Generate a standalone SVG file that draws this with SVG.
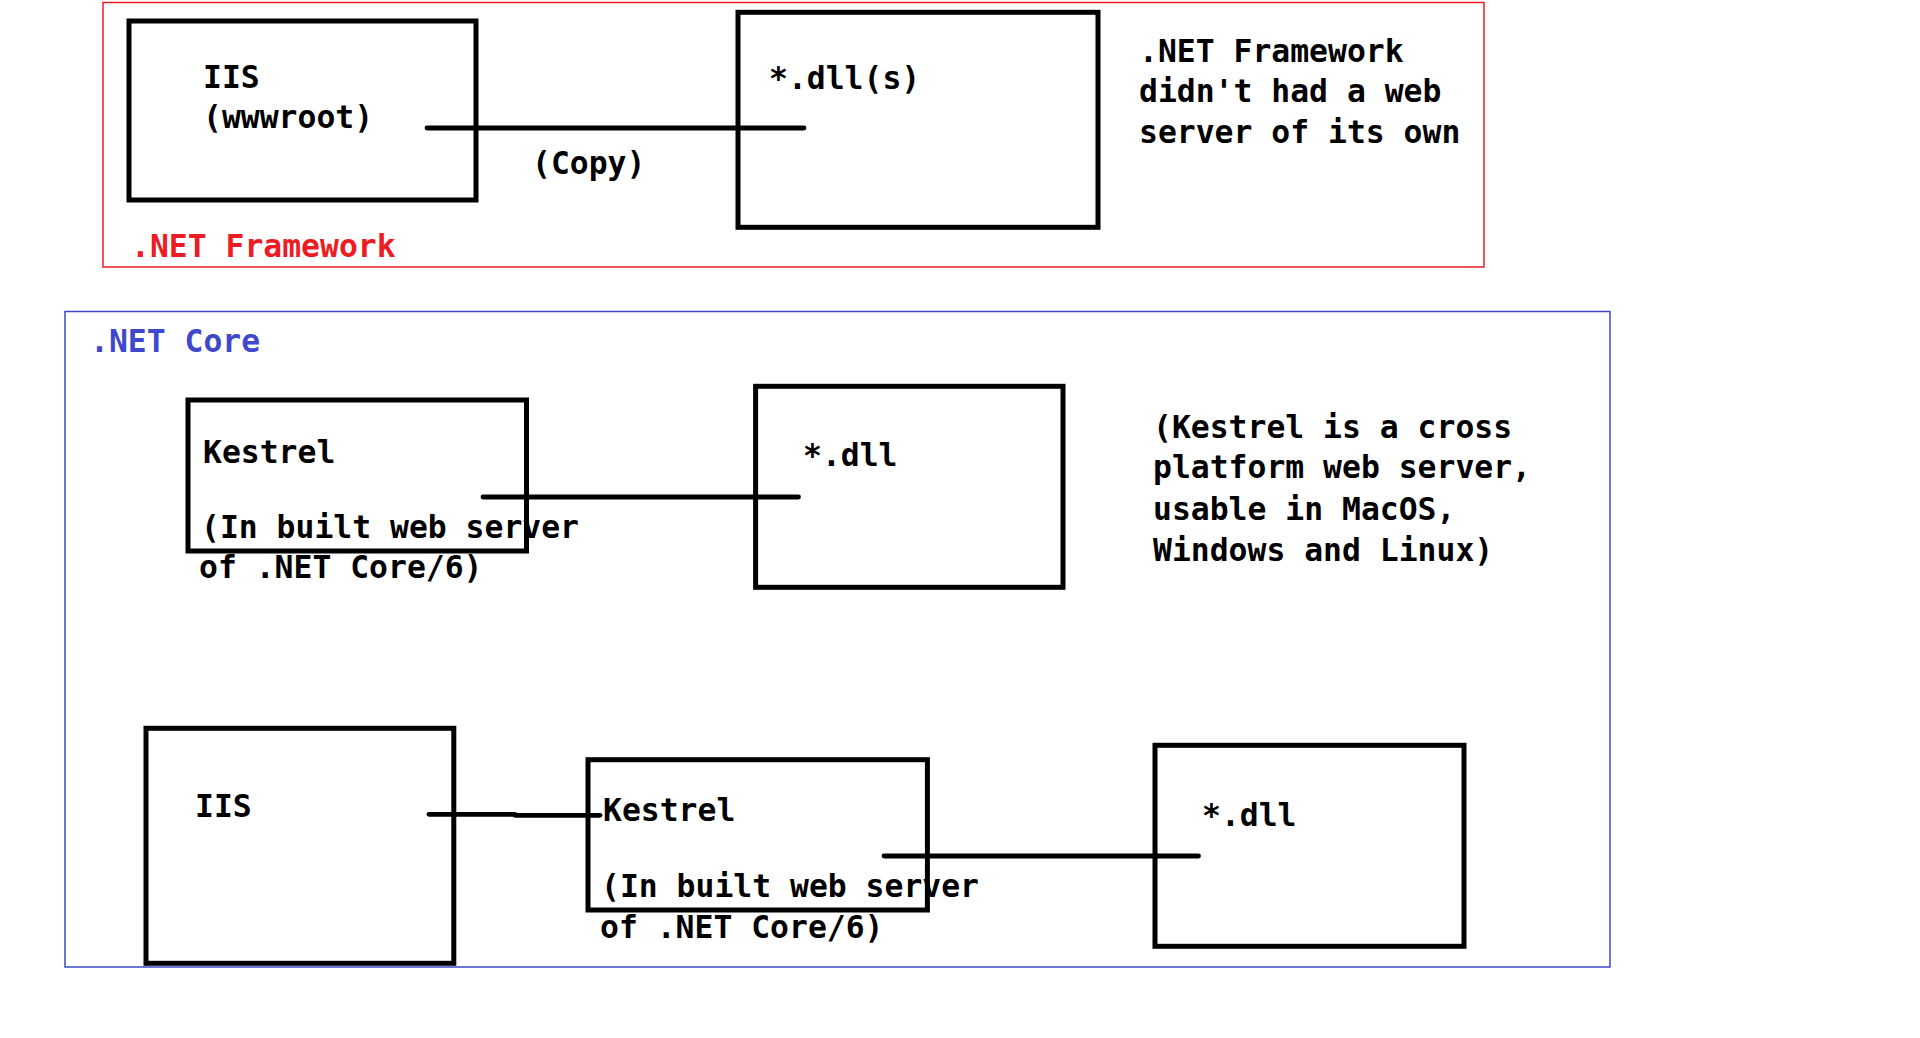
<svg xmlns="http://www.w3.org/2000/svg" width="1920" height="1038" viewBox="0 0 1920 1038">
<style>
.box{fill:none;stroke:#000;stroke-width:5}
.conn{stroke:#000;stroke-width:4.8;stroke-linecap:round;fill:none}
.t{font-family:"DejaVu Sans Mono","Liberation Mono",monospace;font-weight:bold;font-size:31.4px;fill:#000}
.red{fill:#ed1c24}
.blue{fill:#3f48cc}
</style>
<rect width="1920" height="1038" fill="#fff"/>
<g id="framework-group">
<rect x="103" y="2.5" width="1381" height="264.5" fill="none" stroke="#ed1c24" stroke-width="1.5"/>
<text class="t red" x="131" y="257">.NET Framework</text>
</g>
<g id="core-group">
<rect x="65" y="311.5" width="1545" height="655.5" fill="none" stroke="#3f48cc" stroke-width="1.5"/>
<text class="t blue" x="90" y="352">.NET Core</text>
</g>
<g id="connectors">
<line class="conn" x1="427" y1="128" x2="804" y2="128"/>
<line class="conn" x1="483" y1="497" x2="798.5" y2="497"/>
<line class="conn" x1="429" y1="814.3" x2="515" y2="814.3"/>
<line class="conn" x1="515" y1="815.3" x2="600" y2="815.3"/>
<line class="conn" x1="884" y1="856" x2="1198.5" y2="856"/>
</g>
<g id="iis-top">
<rect class="box" x="129" y="21" width="347" height="179"/>
<text class="t" x="203" y="88">IIS</text>
<text class="t" x="203" y="128">(wwwroot)</text>
</g>
<g id="copy-label">
<text class="t" x="532" y="174">(Copy)</text>
</g>
<g id="dlls-top">
<rect class="box" x="738" y="12.3" width="360" height="215"/>
<text class="t" x="769" y="89">*.dll(s)</text>
</g>
<g id="framework-note">
<text class="t" x="1139" y="62">.NET Framework</text>
<text class="t" x="1139" y="102">didn't had a web</text>
<text class="t" x="1139" y="143">server of its own</text>
</g>
<g id="kestrel-mid">
<rect class="box" x="188" y="400" width="338.5" height="151"/>
<text class="t" x="203" y="463">Kestrel</text>
<text class="t" x="201" y="538">(In built web server</text>
<text class="t" x="199" y="578">of .NET Core/6)</text>
</g>
<g id="dll-mid">
<rect class="box" x="755.6" y="386.3" width="307.4" height="201"/>
<text class="t" x="803" y="466">*.dll</text>
</g>
<g id="kestrel-note">
<text class="t" x="1153" y="438">(Kestrel is a cross</text>
<text class="t" x="1153" y="478">platform web server,</text>
<text class="t" x="1153" y="520">usable in MacOS,</text>
<text class="t" x="1153" y="561">Windows and Linux)</text>
</g>
<g id="iis-bottom">
<rect class="box" x="146" y="728.3" width="307.8" height="235"/>
<text class="t" x="195" y="817">IIS</text>
</g>
<g id="kestrel-bottom">
<rect class="box" x="588" y="759.7" width="339.4" height="150.3"/>
<text class="t" x="603" y="821">Kestrel</text>
<text class="t" x="601" y="897">(In built web server</text>
<text class="t" x="600" y="938">of .NET Core/6)</text>
</g>
<g id="dll-bottom">
<rect class="box" x="1155" y="745.3" width="309" height="201"/>
<text class="t" x="1202" y="826">*.dll</text>
</g>
</svg>
